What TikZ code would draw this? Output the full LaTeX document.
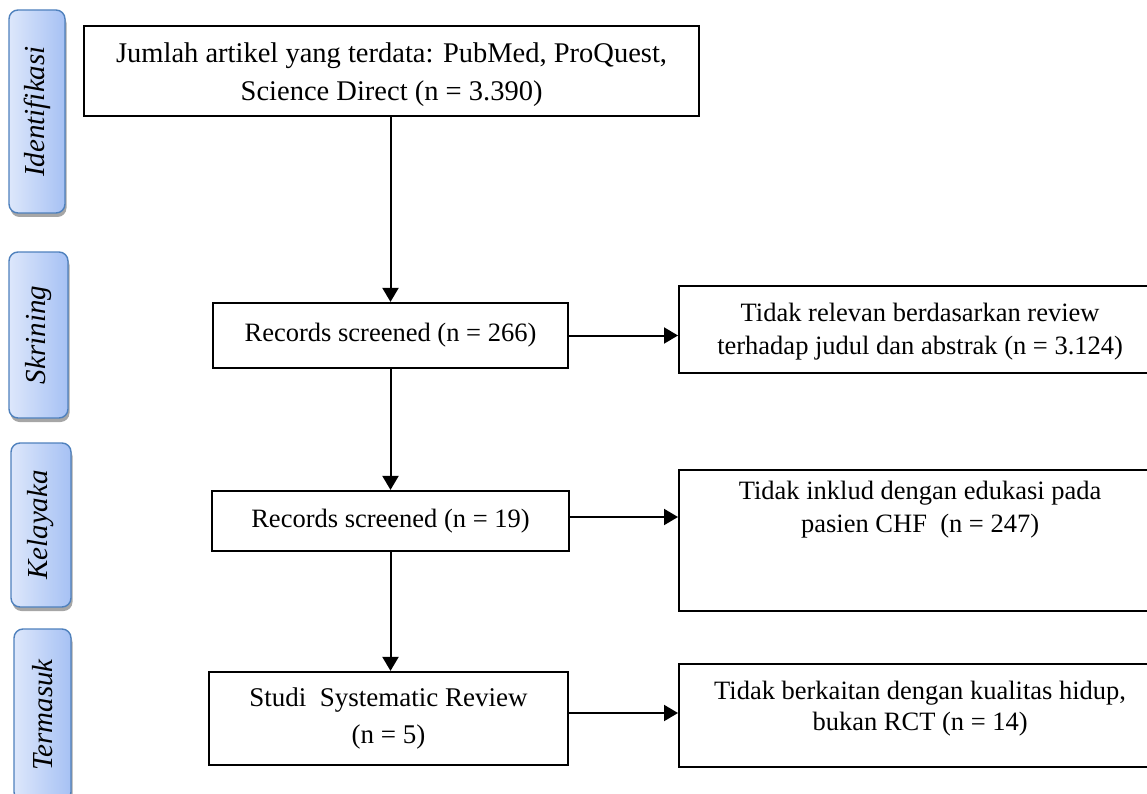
\documentclass[tikz,border=0pt]{standalone}
\usepackage{fontspec}
\setmainfont{Liberation Serif}
\usetikzlibrary{arrows.meta,shadows}
\definecolor{sideedge}{HTML}{4F81BD}
\definecolor{sideL}{HTML}{DDE7FB}
\definecolor{sideR}{HTML}{A6C1F4}
\newcommand{\sidefont}{\fontsize{29}{32}\selectfont\itshape}
\begin{document}
\begin{tikzpicture}[x=1pt,y=-1pt,
  sidebox/.style={draw=sideedge, line width=1.4pt, rounded corners=9pt,
    left color=sideL, right color=sideR, inner sep=0pt,
    drop shadow={shadow xshift=1.5pt, shadow yshift=-4pt, opacity=0.35, fill=black}},
  flowbox/.style={draw, line width=2.2pt, inner sep=0pt, align=center,
    font=\fontsize{26.5}{33}\selectfont},
  flowarrow/.style={line width=2pt, -{Triangle[length=14pt,width=16pt]}}
]
\clip (0,0) rectangle (1147,794);
\fill[white] (0,0) rectangle (1147,794);

% side labels
\node[sidebox, minimum width=56pt, minimum height=203pt] (s1) at (37,111.5)
  {\rotatebox{90}{\sidefont Identifikasi}};
\node[sidebox, minimum width=59pt, minimum height=166pt] (s2) at (38.5,335)
  {\rotatebox{90}{\sidefont Skrining}};
\node[sidebox, minimum width=60pt, minimum height=164pt] (s3) at (41,525)
  {\rotatebox{90}{\sidefont Kelayaka}};
\node[sidebox, minimum width=57pt, minimum height=172pt] (s4) at (42.5,715)
  {\rotatebox{90}{\sidefont Termasuk}};

% main column
\node[flowbox, anchor=north west, font=\fontsize{28.5}{38}\selectfont] (b1) at (83,25)
  {\parbox[c][90pt][c]{615pt}{\centering\vspace*{8pt}Jumlah artikel yang terdata: PubMed, ProQuest,\\Science Direct (n = 3.390)}};
\node[flowbox, minimum width=355pt, minimum height=65pt] (b2) at (390.5,335.5)
  {Records screened (n = 266)};
\node[flowbox, minimum width=357pt, minimum height=60pt] (b3) at (390.5,521)
  {Records screened (n = 19)};
\node[flowbox, minimum width=359pt, minimum height=93pt,
  font=\fontsize{27}{37}\selectfont] (b4) at (388.5,718.5)
  {Studi~~Systematic Review\\(n = 5)};

% right column
\node[flowbox, anchor=north west] (r2) at (678,285)
  {\parbox[c][87pt][c]{482pt}{\centering\vspace*{4pt}Tidak relevan berdasarkan review\\terhadap judul dan abstrak (n = 3.124)}};
\node[flowbox, anchor=north west] (r3) at (678,469)
  {\parbox[c][141pt][t]{482pt}{\centering\vspace*{11pt}Tidak inklud dengan edukasi pada\\pasien CHF~~(n = 247)}};
\node[flowbox, anchor=north west, font=\fontsize{26.5}{31}\selectfont] (r4) at (678,663)
  {\parbox[c][103pt][t]{482pt}{\centering\vspace*{17pt}Tidak berkaitan dengan kualitas hidup,\\bukan RCT (n = 14)}};

% connectors
\draw[flowarrow] (b2.north |- b1.south) -- (b2.north);
\draw[flowarrow] (b2.south) -- (b3.north);
\draw[flowarrow] (b3.south) -- (b3.south |- b4.north);
\draw[flowarrow] (b2.east) -- (b2.east -| r2.west);
\draw[flowarrow] ([yshift=4pt]b3.east) -- ([yshift=4pt]b3.east -| r3.west);
\draw[flowarrow] ([yshift=5.5pt]b4.east) -- ([yshift=5.5pt]b4.east -| r4.west);
\end{tikzpicture}
\end{document}
